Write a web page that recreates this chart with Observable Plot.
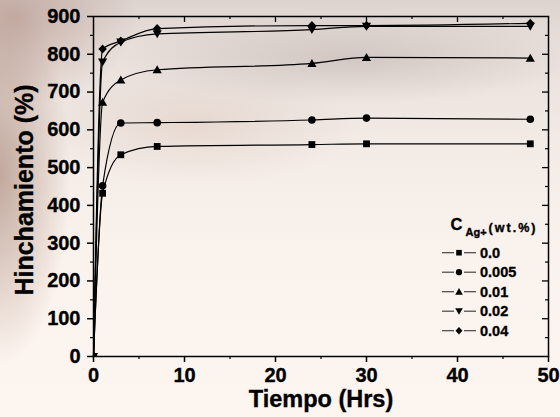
<!DOCTYPE html>
<html><head><meta charset="utf-8">
<script src="https://cdn.jsdelivr.net/npm/d3@7"></script>
<script src="https://cdn.jsdelivr.net/npm/@observablehq/plot@0.6"></script>
<style>
html,body{margin:0;padding:0;}
body{width:560px;height:417px;overflow:hidden;
background:
 radial-gradient(ellipse 70px 190px at 0% 42%, rgba(150,112,95,0.55), rgba(150,112,95,0) 100%),
 radial-gradient(ellipse 120px 90px at 3% 4%, rgba(175,140,128,0.55), rgba(175,140,128,0) 100%),
 radial-gradient(ellipse 230px 45px at 62% 14%, rgba(165,150,145,0.35), rgba(165,150,145,0) 100%),
 radial-gradient(ellipse 160px 60px at 35% 30%, rgba(200,170,155,0.25), rgba(200,170,155,0) 100%),
 linear-gradient(to bottom, #ddd3cf 0%, #e9e0db 12%, #f3ebe6 35%, #faf2ec 60%, #fdf6f0 100%);}
#chart{position:relative;width:560px;height:417px;}
#chart svg{display:block;}
#chart svg text{font-family:"Liberation Sans", Arial, Helvetica, sans-serif !important; font-weight:bold !important;
  stroke:#000; stroke-width:0.35px; paint-order:stroke;}
</style></head><body><div id="chart"></div>
<script>
// ---- data ----
const times = [0, 1, 3, 7, 24, 30, 48];
const seriesNames = ["0.0", "0.005", "0.01", "0.02", "0.04"];
const swelling_0_0   = [0, 432, 534, 556, 561, 563, 563];
const swelling_0_005 = [0, 452, 618, 619, 626, 631, 628];
const swelling_0_01  = [0, 673, 732, 759, 776, 792, 790];
const swelling_0_02  = [0, 779, 832, 854, 865, 874, 874];
const swelling_0_04  = [0, 814, 835, 868, 876, 876, 882];
const xTicks = [0, 10, 20, 30, 40, 50];
const xMinorTicks = [5, 15, 25, 35, 45];
const yTicks = [0, 100, 200, 300, 400, 500, 600, 700, 800, 900];
const yMinorTicks = [50, 150, 250, 350, 450, 550, 650, 750, 850];

const allValues = [swelling_0_0, swelling_0_005, swelling_0_01, swelling_0_02, swelling_0_04];
const rows = seriesNames.flatMap((s, i) => times.map((t, j) => ({series: s, t, v: allValues[i][j]})));

// ---- symbols ----
function sym(fn){ return {draw(ctx, size){ const r = Math.sqrt(size / Math.PI); fn(ctx, r); }}; }
const square = sym((c, r) => { const h = r * 0.85; c.moveTo(-h,-h); c.lineTo(h,-h); c.lineTo(h,h); c.lineTo(-h,h); c.closePath(); });
const circle = sym((c, r) => { const rr = r * 0.95; c.moveTo(rr,0); c.arc(0,0,rr,0,2*Math.PI); c.closePath(); });
const triUp = sym((c, r) => { c.moveTo(0,-1.1*r); c.lineTo(1.15*r,0.9*r); c.lineTo(-1.15*r,0.9*r); c.closePath(); });
const triDown = sym((c, r) => { c.moveTo(0,1.1*r); c.lineTo(1.15*r,-0.9*r); c.lineTo(-1.15*r,-0.9*r); c.closePath(); });
const diamond = sym((c, r) => { c.moveTo(0,-1.15*r); c.lineTo(1.05*r,0); c.lineTo(0,1.15*r); c.lineTo(-1.05*r,0); c.closePath(); });
const symbols = [square, circle, triUp, triDown, diamond];

const W = 560, H = 417, mL = 93, mR = 12, mT = 16, mB = 61;
const innerW = W - mL - mR, innerH = H - mT - mB;
const FONT = "'Liberation Sans', Arial, Helvetica, sans-serif";

const plot = Plot.plot({
  width: W, height: H,
  marginLeft: mL, marginRight: mR, marginTop: mT, marginBottom: mB,
  style: {background: "transparent", fontFamily: FONT, fontWeight: "bold", color: "#000", overflow: "visible"},
  x: {domain: [0, 50]},
  y: {domain: [0, 900]},
  symbol: {domain: seriesNames, range: symbols},
  marks: [
    Plot.line(rows, {x: "t", y: "v", z: "series", curve: "monotone-x", stroke: "#000", strokeWidth: 1.2}),
    Plot.dot(rows, {x: "t", y: "v", symbol: "series", fill: "#000", stroke: "none", r: 4, clip: true}),
    Plot.axisX(xTicks, {anchor: "bottom", tickSize: 6, tickPadding: 5, fontSize: 20, label: null, strokeWidth: 1.5}),
    Plot.axisX(xMinorTicks, {anchor: "bottom", tickSize: 3, tickFormat: () => "", label: null, strokeWidth: 1.2}),
    Plot.axisY(yTicks, {anchor: "left", tickSize: 6, tickPadding: 7, fontSize: 20, label: null, strokeWidth: 1.5}),
    Plot.axisY(yMinorTicks, {anchor: "left", tickSize: 3, tickFormat: () => "", label: null, strokeWidth: 1.2}),
    Plot.ruleX(xTicks.slice(1, -1), {insetBottom: innerH - 6, strokeWidth: 1.3}),
    Plot.ruleX(xMinorTicks, {insetBottom: innerH - 3, strokeWidth: 1.2}),
    Plot.ruleY(yTicks.slice(1, -1), {insetLeft: innerW - 6, strokeWidth: 1.3}),
    Plot.ruleY(yMinorTicks, {insetLeft: innerW - 3, strokeWidth: 1.2}),
    Plot.frame({stroke: "#000", strokeWidth: 1.5})
  ]
});
document.getElementById("chart").appendChild(plot);

// ---- axis titles and legend ----
const svg = d3.select(plot);
const g = svg.append("g").attr("fill", "#000").attr("text-anchor", "start");
g.append("text").attr("transform", "translate(33,190) rotate(-90)").attr("text-anchor", "middle")
  .attr("font-size", 25).text("Hinchamiento (%)");
g.append("text").attr("x", 321).attr("y", 407).attr("text-anchor", "middle")
  .attr("font-size", 23.5).text("Tiempo (Hrs)");

g.append("text").attr("x", 450.5).attr("y", 230).attr("font-size", 16.5).text("C");
g.append("text").attr("x", 465.5).attr("y", 236).attr("font-size", 11).text("Ag+");
g.append("text").attr("x", 488.5).attr("y", 232).attr("font-size", 12.5)
  .attr("textLength", 47).attr("lengthAdjust", "spacing").text("(wt.%)");

const legendY0 = 252.7, legendStep = 19.5;
seriesNames.forEach((s, i) => {
  const cy = legendY0 + i * legendStep;
  g.append("line").attr("x1", 442).attr("x2", 454).attr("y1", cy).attr("y2", cy).attr("stroke", "#444").attr("stroke-width", 1.2);
  g.append("line").attr("x1", 464).attr("x2", 476).attr("y1", cy).attr("y2", cy).attr("stroke", "#444").attr("stroke-width", 1.2);
  g.append("path").attr("transform", `translate(459,${cy})`)
    .attr("d", d3.symbol().type(symbols[i]).size(Math.PI * 3.3 * 3.3)());
  g.append("text").attr("x", 480).attr("y", cy + 5.2).attr("font-size", 14.5).text(s);
});
</script>
</body></html>
